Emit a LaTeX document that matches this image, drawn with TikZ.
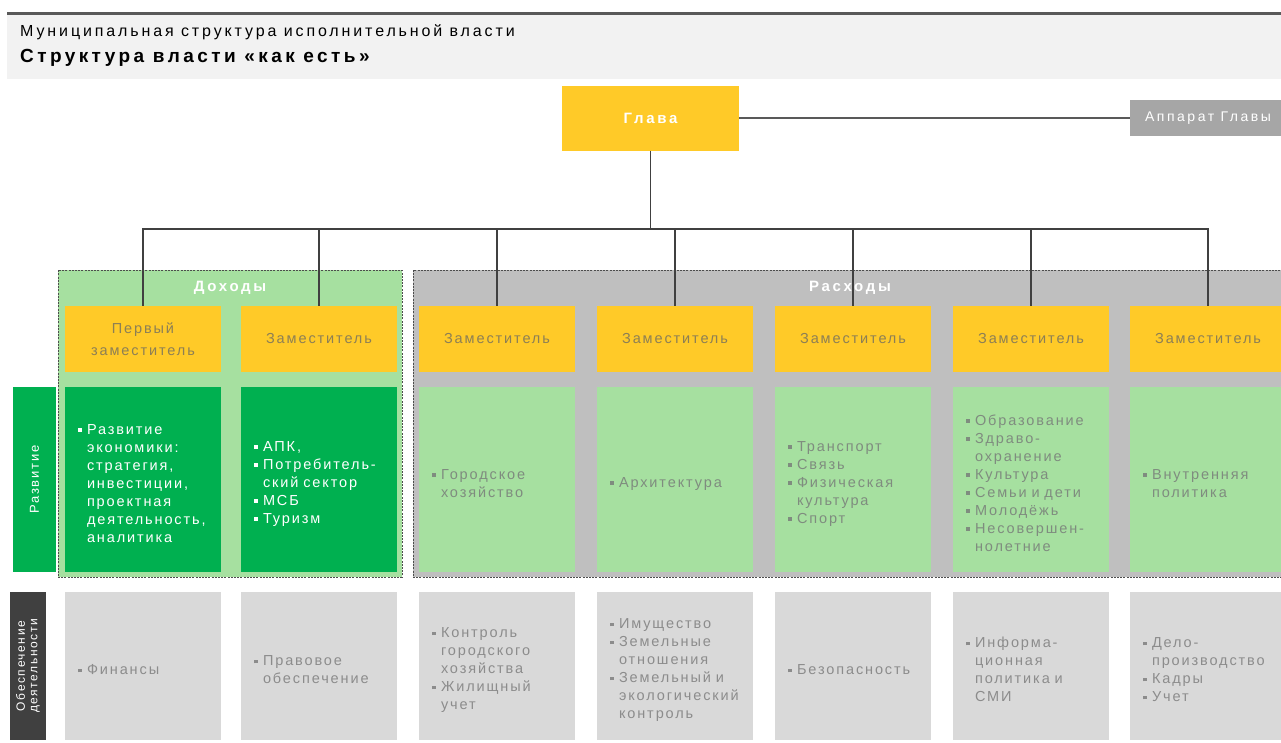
\documentclass[tikz,border=0pt]{standalone}
\usepackage{fontspec}
\setmainfont{Liberation Sans}[LetterSpace=13]
\newfontfamily\widefont{Liberation Sans}[LetterSpace=18]

\definecolor{glyellow}{HTML}{FFCA28}
\definecolor{dkgreen}{HTML}{00B050}
\definecolor{ltgreen}{HTML}{A6E0A0}
\definecolor{grpgray}{HTML}{BFBFBF}
\definecolor{cellgray}{HTML}{D9D9D9}
\definecolor{apgray}{HTML}{A6A6A6}
\definecolor{sidedark}{HTML}{404040}
\definecolor{hdrband}{HTML}{F2F2F2}
\definecolor{hdrclr}{HTML}{595959}
\definecolor{lineclr}{HTML}{404040}
\definecolor{depfg}{HTML}{8C7F55}
\definecolor{lgfg}{HTML}{7F8C7F}
\definecolor{gyfg}{HTML}{8C8C8C}
\definecolor{frameclr}{HTML}{4D4D4D}

% small square bullet with hanging indent
\newcommand\blt{\par\hangindent=9pt\hangafter=1\noindent\makebox[9pt][l]{\raisebox{2.5pt}{\rule{3.5pt}{3.5pt}}}}
\newcommand\nl{\newline}
\newcommand\lst[1]{#1\par}

\begin{document}
\begin{tikzpicture}[x=1pt, y=-1pt,
    conn/.style={draw=lineclr, line width=1.3pt},
    deputy/.style={fill=glyellow, text=depfg, minimum width=156pt, minimum height=66pt,
      align=center, inner sep=0pt, font=\fontsize{14.5}{22}\selectfont},
    devdark/.style={fill=dkgreen, text=white, minimum height=185pt, text width=130pt,
      inner xsep=13pt, inner ysep=0pt, align=left, font=\fontsize{14.5}{18}\selectfont},
    devlight/.style={devdark, fill=ltgreen, text=lgfg},
    support/.style={devdark, fill=cellgray, text=gyfg, minimum height=148pt},
    grpframe/.style={draw=frameclr, dash pattern=on 2pt off 1.2pt, line width=1pt, inner sep=0pt},
    grptitle/.style={text=white, font=\widefont\bfseries\fontsize{15}{18}\selectfont, inner sep=0pt},
    sidelabel/.style={rotate=90, text=white, inner sep=0pt, align=center}]

\useasboundingbox (0,0) rectangle (1281,742);
\clip (0,0) rectangle (1281,742);

% header
\fill[hdrband] (7,15) rectangle (1281,79);
\draw[hdrclr, line width=2.5pt] (7,13.5) -- (1281,13.5);
\node[anchor=west, inner sep=0pt, font=\widefont\fontsize{16}{18}\selectfont] (subtitle) at (20,32)
  {Муниципальная структура исполнительной власти};
\node[anchor=west, inner sep=0pt, font=\widefont\bfseries\fontsize{19}{22}\selectfont] (title) at (20,58)
  {Структура власти «как есть»};

% groups
\node[grpframe, fill=ltgreen, minimum width=344pt, minimum height=307pt] (inc) at (230,423.5) {};
\node[grpframe, fill=grpgray, minimum width=877pt, minimum height=307pt] (exp) at (851.5,423.5) {};
\node[grptitle] (inctitle) at (230,288) {Доходы};
\node[grptitle] (exptitle) at (850,288) {Расходы};

% head
\node[fill=glyellow, text=white, inner sep=0pt, minimum width=177pt, minimum height=65pt,
  font=\widefont\bfseries\fontsize{15}{18}\selectfont] (glava) at (650.5,118) {Глава};
\node[fill=apgray, text=white, inner sep=0pt, minimum width=156pt, minimum height=36pt,
  font=\widefont\fontsize{14}{17}\selectfont] (apparat) at (1208,118) {Аппарат Главы};
\draw[draw=hdrclr, line width=1.8pt] (glava.east) -- (apparat.west);

% deputies
\foreach \i/\cx/\txt in {1/143/{Первый\\заместитель}, 2/319/Заместитель, 3/497/Заместитель,
    4/675/Заместитель, 5/853/Заместитель, 6/1031/Заместитель, 7/1208/Заместитель}
  \node[deputy] (dep\i) at (\cx,339) {\txt};

\coordinate (bus) at (650.5,229);
\draw[conn] (glava.south) -- (bus);
\foreach \i in {1,...,7}
  \draw[conn] (dep\i.north) |- (bus);

% development row
\node[sidelabel, fill=dkgreen, minimum width=185pt, minimum height=43pt,
  font=\fontsize{13}{15}\selectfont] (razv) at (34.5,479.5) {Развитие};
\node[devdark] (dev1) at (143,479.5) {\lst{\blt Развитие\nl экономики:\nl стратегия,\nl инвестиции,\nl проектная\nl деятельность,\nl аналитика}};
\node[devdark] (dev2) at (319,479.5) {\lst{\blt АПК,\blt Потребитель-\nl ский сектор\blt МСБ\blt Туризм}};
\node[devlight] (dev3) at (497,479.5) {\lst{\blt Городское\nl хозяйство}};
\node[devlight] (dev4) at (675,479.5) {\lst{\blt Архитектура}};
\node[devlight] (dev5) at (853,479.5) {\lst{\blt Транспорт\blt Связь\blt Физическая\nl культура\blt Спорт}};
\node[devlight] (dev6) at (1031,479.5) {\lst{\blt Образование\blt Здраво-\nl охранение\blt Культура\blt Семьи и дети\blt Молодёжь\blt Несовершен-\nl нолетние}};
\node[devlight] (dev7) at (1208,479.5) {\lst{\blt Внутренняя\nl политика}};

% support row
\node[sidelabel, fill=sidedark, minimum width=148pt, minimum height=36pt,
  font=\fontsize{12}{12.5}\selectfont] (obesp) at (28,666) {Обеспечение\\деятельности};
\node[support] (sup1) at (143,666) {\lst{\blt Финансы}};
\node[support] (sup2) at (319,666) {\lst{\blt Правовое\nl обеспечение}};
\node[support] (sup3) at (497,666) {\lst{\blt Контроль\nl городского\nl хозяйства\blt Жилищный\nl учет}};
\node[support] (sup4) at (675,666) {\lst{\blt Имущество\blt Земельные\nl отношения\blt Земельный и\nl экологический\nl контроль}};
\node[support] (sup5) at (853,666) {\lst{\blt Безопасность}};
\node[support] (sup6) at (1031,666) {\lst{\blt Информа-\nl ционная\nl политика и\nl СМИ}};
\node[support] (sup7) at (1208,666) {\lst{\blt Дело-\nl производство\blt Кадры\blt Учет}};

\end{tikzpicture}
\end{document}
